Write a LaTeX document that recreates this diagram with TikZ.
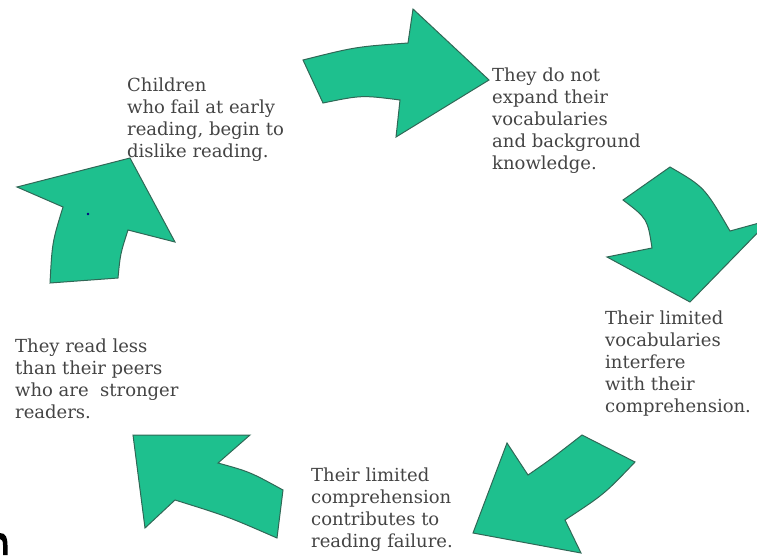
\documentclass[tikz,border=0pt]{standalone}
\usepackage{fontspec}
\setmainfont{DejaVu Serif}
\usepackage{tikz}
\definecolor{cycle-green}{RGB}{30,192,142}
\definecolor{cycle-edge}{RGB}{48,104,86}
\definecolor{cycle-text}{RGB}{68,68,68}

\begin{document}
\begin{tikzpicture}[
    x=1pt, y=-1pt,
    stage/.style={anchor=north west, inner sep=0pt, align=left,
                  font=\fontsize{18}{22}\selectfont, text=cycle-text},
    bigarrow/.style={fill=cycle-green, draw=cycle-edge, line width=1pt, line join=miter}
  ]
    \useasboundingbox (0,0) rectangle (757,555);

    \node[stage] (fail)   at (127,78)  {Children\\who fail at early\\reading, begin to\\dislike reading.};
    \node[stage] (expand) at (492,68)  {They do not\\expand their\\vocabularies\\and background\\knowledge.};
    \node[stage] (vocab)  at (605,311) {Their limited\\vocabularies\\interfere\\with their\\comprehension.};
    \node[stage] (compr)  at (311,468) {Their limited\\comprehension\\contributes to\\reading failure.};
    \node[stage] (less)   at (15,339)  {They read less\\than their peers\\who are~ stronger\\readers.};

    % block arrows round the cycle
    \filldraw[bigarrow] (303,60) .. controls (355.5,46.8) .. (408,43) -- (413,9) -- (489,80)
        -- (396,137) -- (400,100) .. controls (361.5,95.1) .. (323,103) -- cycle;
    \filldraw[bigarrow] (623,200) -- (670,167) .. controls (704.4,187) .. (730,231) -- (770,220)
        -- (690,302) -- (607,257) -- (652,248) .. controls (647.5,218.7) .. (623,200) -- cycle;
    \filldraw[bigarrow] (582,435) .. controls (550.6,459.4) .. (528,475) -- (507,443) -- (473,533)
        -- (581,553) -- (565,520) .. controls (604.4,494.1) .. (635,462) -- cycle;
    \filldraw[bigarrow] (133,435) -- (250,435) -- (218,463) .. controls (249.8,471.8) .. (283,490)
        -- (277,538) .. controls (227.3,516.3) .. (175,500) -- (145,528) -- cycle;
    \filldraw[bigarrow] (130,158) -- (175,242) -- (128,230) .. controls (120.3,254) .. (118,278)
        -- (50,283) .. controls (52.2,242.3) .. (63,207) -- (17,187) -- cycle;

    \fill[blue!50!black] (88,214) circle (1.3);
    % cut-off mark at the lower left edge
    \fill (0,533) .. controls (6,533) and (7.5,538) .. (7.5,545) -- (7.5,555) -- (3,555)
        -- (3,545) .. controls (3,541) and (2,539) .. (0,539) -- cycle;
  \end{tikzpicture}
\end{document}
